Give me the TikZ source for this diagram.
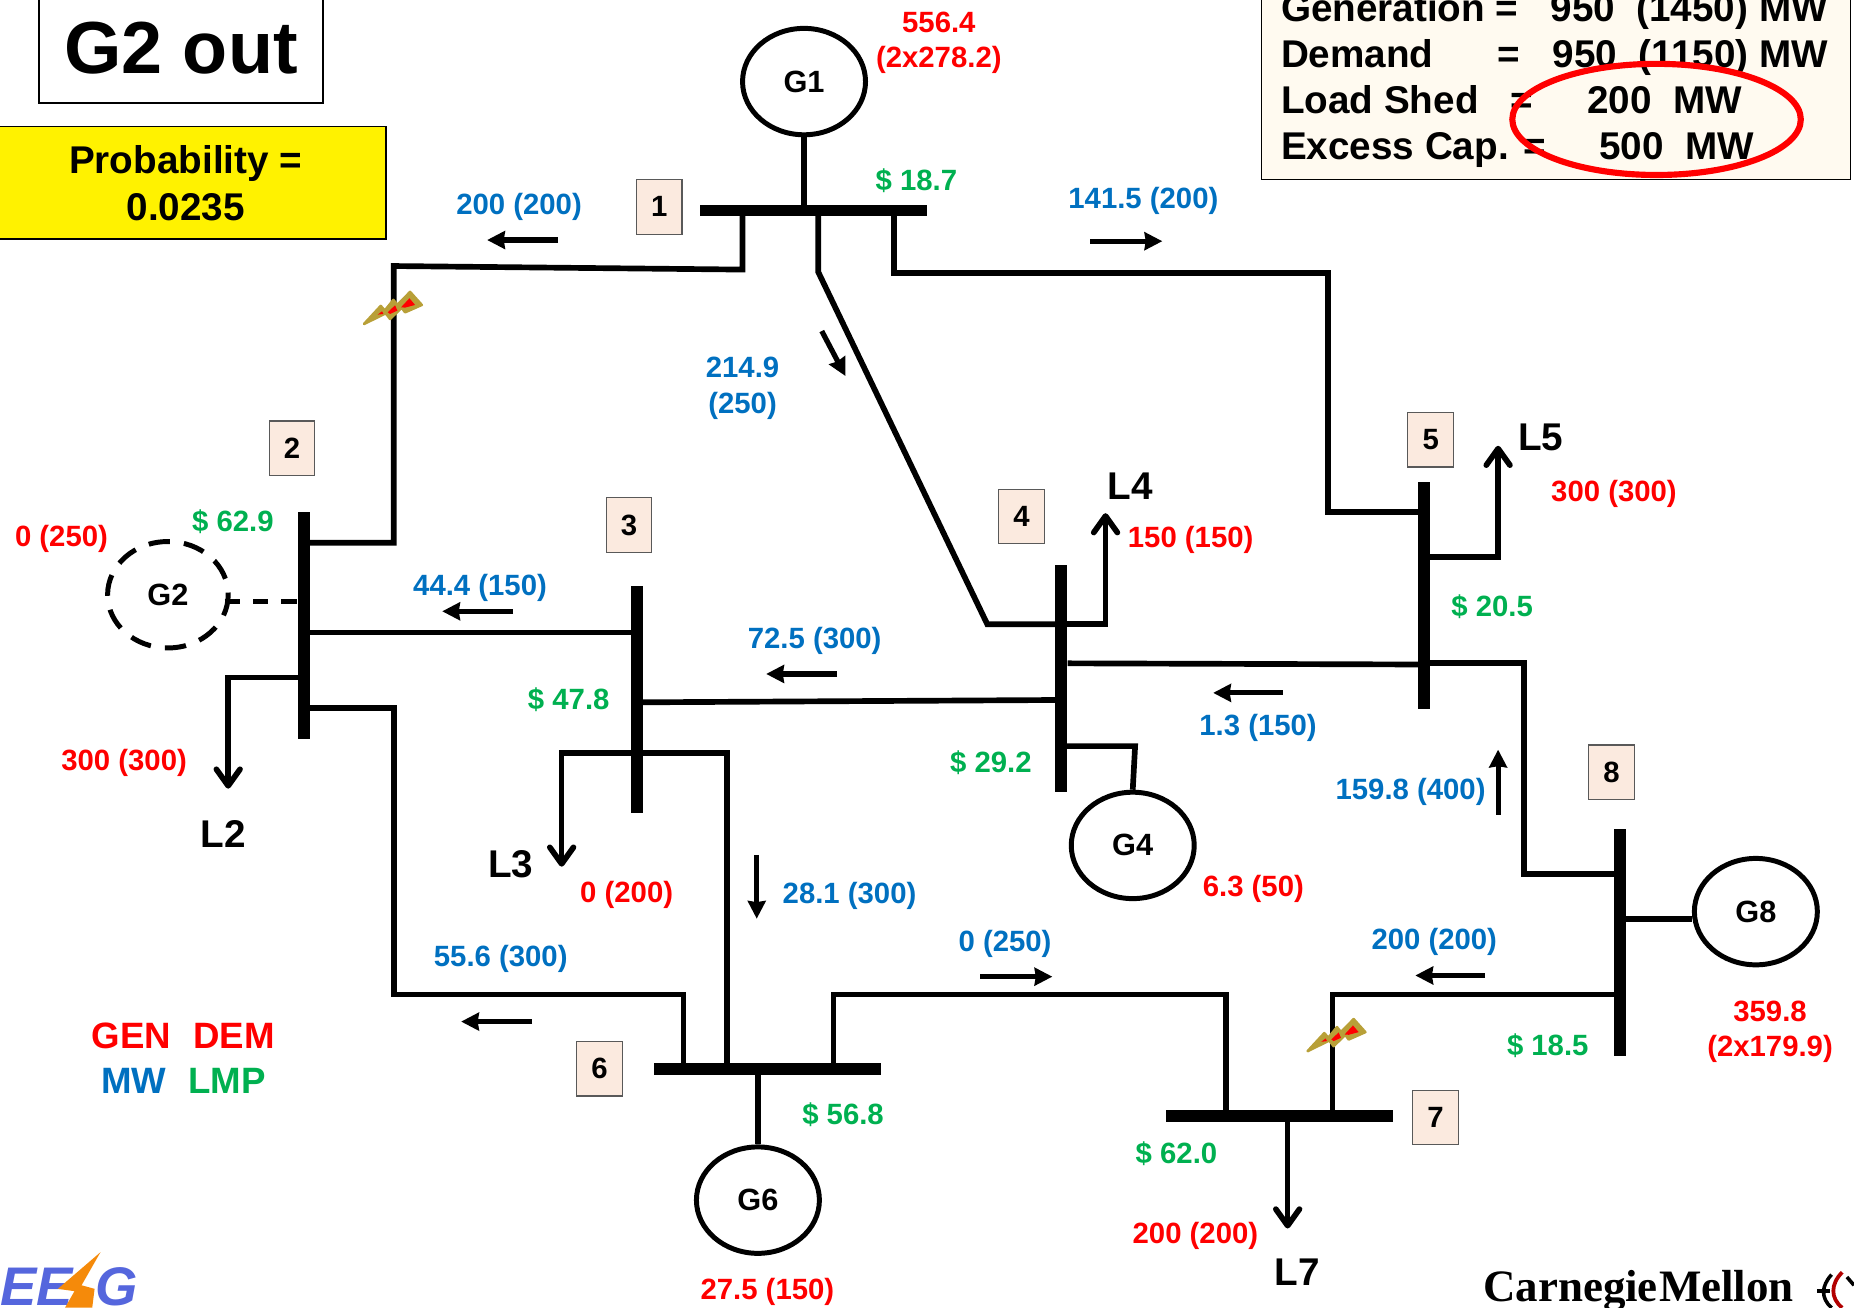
\documentclass[tikz,border=0pt]{standalone}
\usepackage{fontspec}
\setmainfont{Liberation Sans}
\newfontfamily\cmufont{Liberation Serif}
\usetikzlibrary{arrows.meta,shapes.geometric}
\definecolor{genred}{HTML}{FF0000}
\definecolor{flowblue}{HTML}{0070C0}
\definecolor{lmpgreen}{HTML}{00B050}
\definecolor{numfill}{HTML}{FBEADF}
\definecolor{infofill}{HTML}{FFFAF0}
\definecolor{boltgold}{HTML}{B8A038}
\definecolor{logoblue}{HTML}{5566DD}
\definecolor{logoorange}{HTML}{F58A0A}
\newcommand{\gtxt}[1]{\raisebox{-.7pt}{#1}}
\tikzset{
  lbl/.style={font=\bfseries\fontsize{12.4}{14}\selectfont,inner sep=0pt},
  redlbl/.style={lbl,text=genred},
  bluelbl/.style={lbl,text=flowblue},
  greenlbl/.style={lbl,text=lmpgreen},
  loadlbl/.style={font=\bfseries\fontsize{16.35}{18}\selectfont,inner sep=0pt},
  wire/.style={line width=2.4pt,line join=miter},
  loadwire/.style={wire,-{Straight Barb[length=7pt,width=10pt,line width=2.4pt,round]}},
  flowarrow/.style={line width=2.2pt,-{Stealth[length=7.5pt,width=7.5pt,inset=.5pt]}},
  hbus/.style={fill=black,minimum width=96pt,minimum height=5pt,inner sep=0pt,outer sep=0pt},
  vbus/.style={fill=black,minimum width=5pt,minimum height=96pt,inner sep=0pt,outer sep=0pt},
  gen/.style={draw=black,line width=2.1pt,ellipse,minimum width=52pt,minimum height=45pt,inner sep=0pt,font=\bfseries\fontsize{13}{15}\selectfont,fill=white},
  numbox/.style={draw=black!65,line width=.5pt,fill=numfill,minimum width=19.3pt,minimum height=23pt,inner sep=0pt,font=\bfseries\fontsize{12.4}{14}\selectfont},
  infoline/.style={anchor=base west,inner sep=0pt,font=\bfseries\fontsize{16.35}{18}\selectfont},
  bolt/.pic={
    \fill[boltgold,line join=round,draw=boltgold,line width=1.1pt]
      (72,162) -- (122,108) -- (134,122) -- (160,90) -- (172,105) -- (210,66) -- (245,105) -- (195,127) -- (185,113) -- (150,147) -- (137,130) -- cycle;
    \fill[genred] (113,134) -- (126,124) -- (130,132) -- cycle
      (143,127) -- (165,106) -- (172,122) -- (150,132) -- cycle
      (183,112) -- (208,85) -- (225,105) -- (195,113) -- cycle;
  }
}
\begin{document}
\begin{tikzpicture}[x=0.5pt,y=-0.5pt]
\useasboundingbox (0,0) rectangle (1568,1106);
\clip (0,0) rectangle (1568,1106);
% title and boxes
\node[draw=black,line width=.6pt,fill=white,minimum width=120pt,minimum height=48pt,inner sep=0pt] (titlebox) at (153,39) {};
\node[inner sep=0pt,font=\bfseries\fontsize{31.2}{34}\selectfont] (title) at (153,41) {G2 out};
\node[draw=black,line width=.6pt,fill=yellow,minimum width=164.5pt,minimum height=47.5pt,inner sep=0pt] (probbox) at (162,154.5) {};
\node[loadlbl] (prob1) at (157,138) {Probability =};
\node[loadlbl] (prob2) at (157,175) {0.0235};
\node[draw=black,line width=.6pt,fill=infofill,minimum width=249pt,minimum height=83pt,inner sep=0pt] (infobox) at (1316,69) {};
\node[infoline] (info1) at (1083,18) {Generation =~~~950~~(1450) MW};
\node[infoline] (info2) at (1083,57) {Demand~~~~~~=~~~950~~(1150) MW};
\node[infoline] (info3) at (1083,96) {Load Shed~~~=~~~~~200~~MW};
\node[infoline] (info4) at (1083,135) {Excess Cap. =~~~~~500~~MW};
\node[draw=genred,line width=2.6pt,ellipse,minimum width=122pt,minimum height=47pt,inner sep=0pt] (shedring) at (1401,101) {};
% buses
\node[hbus] (b1) at (688,178) {};
\node[vbus] (b2) at (257,529) {};
\node[vbus] (b3) at (539,592) {};
\node[vbus] (b4) at (897,574) {};
\node[vbus] (b5) at (1204,504) {};
\node[hbus] (b6) at (649,904) {};
\node[hbus] (b7) at (1082,944) {};
\node[vbus] (b8) at (1370,797) {};
% generators
\node[gen] (g1) at (680,69) {\gtxt{G1}};
\node[gen,draw=none,fill=none] (g2) at (142,503) {\gtxt{G2}};
\node[gen] (g4) at (958,715) {\gtxt{G4}};
\node[gen] (g6) at (641,1015) {\gtxt{G6}};
\node[gen] (g8) at (1485,771) {\gtxt{G8}};
\draw[line width=2.1pt,dash pattern=on 9pt off 6pt] (g2.center) ellipse [x radius=51,y radius=45];
% connectors
\draw[wire] (g1.south -| 680,0) -- (b1.center -| 680,0);
\draw[wire] (b1.center -| 628,0) -- (628,228) -- (333,225) -- (333,459) -- (b2.center |- 0,459);
\draw[wire] (b1.center -| 692,0) -- (692,230) -- (835,528) -- (b4.center |- 0,528);
\draw[wire] (b1.center -| 756,0) -- (756,231) -- (1123,231) -- (1123,433) -- (b5.center |- 0,433);
\draw[line width=2.1pt,dash pattern=on 6.5pt off 5.5pt] (190,509) -- (b2.center |- 0,509);
\draw[wire] (b2.center |- 0,535) -- (b3.center |- 0,535);
\draw[loadwire] (b2.center |- 0,573) -- (193,573) -- (193,667);
\draw[wire] (b2.center |- 0,599) -- (333,599) -- (333,841) -- (578,841) -- (b6.center -| 578,0);
\draw[wire] (b3.center |- 0,594) -- (b4.center |- 0,592);
\draw[loadwire] (b3.center |- 0,637) -- (475,637) -- (475,733);
\draw[wire] (b3.center |- 0,637) -- (615,637) -- (b6.center -| 615,0);
\draw[loadwire] (b4.center |- 0,528) -- (935,528) -- (935,434);
\draw[wire] (b4.center |- 0,631) -- (960,631) -- (g4.north);
\draw[wire] (903,561) -- (b5.center |- 0,562);
\draw[loadwire] (b5.center |- 0,471) -- (1267,471) -- (1267,377);
\draw[wire] (b5.center |- 0,561) -- (1289,561) -- (1289,739) -- (b8.center |- 0,739);
\draw[wire] (b8.center |- 0,777) -- (g8.west |- 0,777);
\draw[wire] (b8.center |- 0,841) -- (1127,841) -- (b7.center -| 1127,0);
\draw[wire] (b6.center -| 705,0) -- (705,841) -- (1037,841) -- (b7.center -| 1037,0);
\draw[wire] (b6.center -| 641,0) -- (g6.north);
\draw[loadwire] (b7.center -| 1089,0) -- (1089,1039);
% flow arrows
\draw[flowarrow] (472,203) -- (412,203);
\draw[flowarrow] (922,204) -- (983,204);
\draw[flowarrow] (695,280) -- (715,318);
\draw[flowarrow] (434,517) -- (374,517);
\draw[flowarrow] (708,570) -- (648,570);
\draw[flowarrow] (1085,586) -- (1026,586);
\draw[flowarrow] (1267,689) -- (1267,634);
\draw[flowarrow] (640,723) -- (640,777);
\draw[flowarrow] (450,864) -- (390,864);
\draw[flowarrow] (829,826) -- (890,826);
\draw[flowarrow] (1256,825) -- (1197,825);
% bolts
\pic at (287.6,228.3) [scale=0.282] {bolt};
\pic at (1085.6,843.3) [scale=0.282] {bolt};
% bus numbers
\node[numbox] (n1) at (557.5,175) {\gtxt{1}};
\node[numbox] (n2) at (247,379) {\gtxt{2}};
\node[numbox] (n3) at (532,444) {\gtxt{3}};
\node[numbox] (n4) at (864,437) {\gtxt{4}};
\node[numbox] (n5) at (1210,372) {\gtxt{5}};
\node[numbox] (n6) at (507,904) {\gtxt{6}};
\node[numbox] (n7) at (1214,945) {\gtxt{7}};
\node[numbox] (n8) at (1363,653) {\gtxt{8}};
% labels
\node[redlbl] (t1) at (794,19) {556.4};
\node[redlbl] (t2) at (794,51) {(2x278.2)};
\node[greenlbl] (t3) at (775,153) {\$ 18.7};
\node[bluelbl] (t4) at (439,175) {200 (200)};
\node[bluelbl] (t5) at (967,170) {141.5 (200)};
\node[bluelbl] (t6) at (628,311) {214.9};
\node[bluelbl] (t7) at (628,343) {(250)};
\node[redlbl] (t8) at (52,456) {0 (250)};
\node[greenlbl] (t9) at (197,441) {\$ 62.9};
\node[bluelbl] (t10) at (406,497) {44.4 (150)};
\node[bluelbl] (t11) at (689,542) {72.5 (300)};
\node[greenlbl] (t12) at (481,592) {\$ 47.8};
\node[redlbl] (t13) at (105,645) {300 (300)};
\node[loadlbl] (t14) at (189,705) {L2};
\node[loadlbl] (t15) at (432,731) {L3};
\node[redlbl] (t16) at (530,757) {0 (200)};
\node[bluelbl] (t17) at (718.5,758) {28.1 (300)};
\node[bluelbl] (t18) at (423.5,811) {55.6 (300)};
\node[bluelbl] (t19) at (850,798) {0 (250)};
\node[bluelbl] (t20) at (1213,797) {200 (200)};
\node[loadlbl] (t21) at (956,411) {L4};
\node[redlbl] (t22) at (1007,457) {150 (150)};
\node[loadlbl] (t23) at (1303,370) {L5};
\node[redlbl] (t24) at (1365,418) {300 (300)};
\node[greenlbl] (t25) at (1262,513) {\$ 20.5};
\node[bluelbl] (t26) at (1064,616) {1.3 (150)};
\node[bluelbl] (t27) at (1193,670) {159.8 (400)};
\node[greenlbl] (t28) at (838,645) {\$ 29.2};
\node[redlbl] (t29) at (1060,752) {6.3 (50)};
\node[redlbl] (t30) at (1497,855) {359.8};
\node[redlbl] (t31) at (1497,887) {(2x179.9)};
\node[greenlbl] (t32) at (1309,884) {\$ 18.5};
\node[greenlbl] (t33) at (713,943) {\$ 56.8};
\node[greenlbl] (t34) at (995,976) {\$ 62.0};
\node[redlbl] (t35) at (1011,1045) {200 (200)};
\node[loadlbl] (t36) at (1097,1076) {L7};
\node[redlbl] (t37) at (649,1093) {27.5 (150)};
\node[inner sep=0pt,text=genred,font=\bfseries\fontsize{15.5}{17}\selectfont] (t38) at (111,876) {GEN};
\node[inner sep=0pt,text=genred,font=\bfseries\fontsize{15.5}{17}\selectfont] (t39) at (198,876) {DEM};
\node[inner sep=0pt,text=flowblue,font=\bfseries\fontsize{15.5}{17}\selectfont] (t40) at (113,914) {MW};
\node[inner sep=0pt,text=lmpgreen,font=\bfseries\fontsize{15.5}{17}\selectfont] (t41) at (192,914) {LMP};
% logos
\node[anchor=base west,inner sep=0pt,text=logoblue,font=\bfseries\itshape\fontsize{23}{25}\selectfont] (eeslogo) at (0,1104) {EE};
\node[anchor=base west,inner sep=0pt,text=logoblue,font=\bfseries\itshape\fontsize{23}{25}\selectfont] (eeglogo) at (80,1104) {G};
\fill[logoorange] (85,1059) -- (49,1090) -- (63,1092) -- (55,1106) -- (78,1106) -- (80,1090) -- (69,1087) -- cycle;
\node[anchor=base west,inner sep=0pt,font=\cmufont\bfseries\fontsize{19}{21}\selectfont] (cmu) at (1254,1101) {Carnegie\hspace{.5pt}Mellon};
\draw[line width=1.5pt] (1549,1078) .. controls (1540,1088) and (1540,1098) .. (1549,1106);
\draw[line width=1.5pt] (1537,1092) -- (1548,1092);
\draw[line width=1.6pt,genred!70!black] (1558,1076) .. controls (1548,1086) and (1548,1098) .. (1558,1106);
\draw[line width=1.5pt] (1562,1080) -- (1568,1087);
\end{tikzpicture}
\end{document}
